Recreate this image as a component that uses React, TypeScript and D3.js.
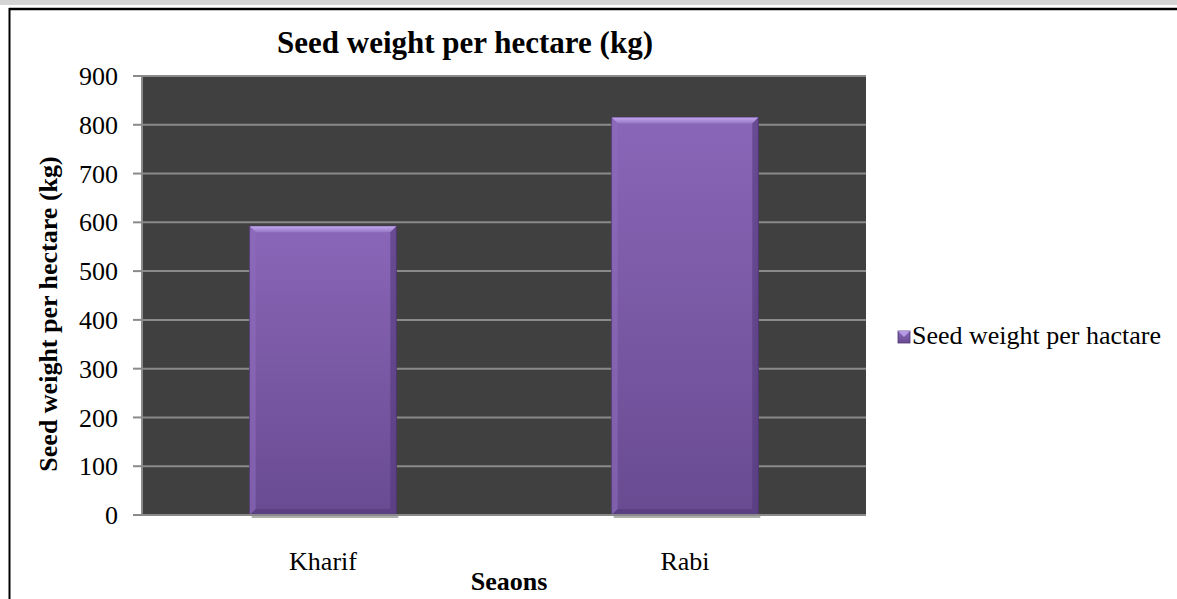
import React from "react";
import * as d3 from "d3";

const categories = ["Kharif", "Rabi"];
const values = [592, 815];
const yTicks = [0, 100, 200, 300, 400, 500, 600, 700, 800, 900];
const seriesName = "Seed weight per hactare";
const chartTitle = "Seed weight per hectare (kg)";
const yTitle = "Seed weight per hectare (kg)";
const xTitle = "Seaons";

const W = 1177;
const H = 599;
const plot = { left: 142, right: 866, top: 76, bottom: 515 };

export default function App() {
  const x = d3
    .scaleBand<string>()
    .domain(categories)
    .range([plot.left, plot.right])
    .paddingInner(0.595)
    .paddingOuter(0.2975);
  const y = d3.scaleLinear().domain([0, 900]).range([plot.bottom, plot.top]);
  const font = "'Times New Roman', 'Liberation Serif', serif";

  return (
    <svg
      width={W}
      height={H}
      style={{ position: "absolute", left: 0, top: 0, background: "#fff" }}
      fontFamily={font}
    >
      <defs>
        <linearGradient id="barGrad" x1="0" y1="0" x2="0" y2="1">
          <stop offset="0" stopColor="#8a66b8" />
          <stop offset="1" stopColor="#684b91" />
        </linearGradient>
        <linearGradient id="barTop" x1="0" y1="0" x2="0" y2="1">
          <stop offset="0" stopColor="#c4a8ee" />
          <stop offset="1" stopColor="#9577c6" />
        </linearGradient>
      </defs>
      <rect x={0} y={0} width={W} height={5} fill="#d4d4d4" />
      <line x1={9} x2={W} y1={9} y2={9} stroke="#000" strokeWidth={2.5} />
      <line x1={9.5} x2={9.5} y1={8} y2={H} stroke="#000" strokeWidth={2} />

      <text x={465} y={53} textAnchor="middle" fontSize={31} fontWeight="bold">
        {chartTitle}
      </text>

      <rect
        x={plot.left}
        y={plot.top}
        width={plot.right - plot.left}
        height={plot.bottom - plot.top}
        fill="#404040"
      />
      {yTicks.map((t) => (
        <g key={t}>
          {t > 0 && (
            <line
              x1={plot.left}
              x2={plot.right}
              y1={y(t)}
              y2={y(t)}
              stroke="#8a8a8a"
              strokeWidth={2}
            />
          )}
          <line x1={133} x2={plot.left} y1={y(t)} y2={y(t)} stroke="#8a8a8a" strokeWidth={2} />
          <text x={118} y={y(t)} dy="0.35em" textAnchor="end" fontSize={26}>
            {t}
          </text>
        </g>
      ))}
      <line x1={plot.left} x2={plot.left} y1={plot.top} y2={plot.bottom} stroke="#8a8a8a" strokeWidth={2} />

      {categories.map((c, i) => {
        const bx = x(c)!;
        const bw = x.bandwidth();
        const by = y(values[i]);
        const bh = plot.bottom - by;
        const bev = 6;
        return (
          <g key={c}>
            <rect x={bx + 2} y={plot.bottom - 1} width={bw} height={4} fill="#9a9a9a" opacity={0.8} />
            <rect x={bx} y={by} width={bw} height={bh} fill="url(#barGrad)" stroke="#4e3670" strokeWidth={1} />
            <polygon
              points={`${bx},${by} ${bx + bw},${by} ${bx + bw - bev},${by + bev} ${bx + bev},${by + bev}`}
              fill="url(#barTop)"
            />
            <polygon
              points={`${bx},${by} ${bx + bev},${by + bev} ${bx + bev},${plot.bottom - bev} ${bx},${plot.bottom}`}
              fill="#8d6cbd"
              opacity={0.6}
            />
            <polygon
              points={`${bx + bw},${by} ${bx + bw - bev},${by + bev} ${bx + bw - bev},${plot.bottom - bev} ${bx + bw},${plot.bottom}`}
              fill="#54397c"
              opacity={0.6}
            />
            <polygon
              points={`${bx},${plot.bottom} ${bx + bev},${plot.bottom - bev} ${bx + bw - bev},${plot.bottom - bev} ${bx + bw},${plot.bottom}`}
              fill="#563b7e"
              opacity={0.7}
            />
            <text x={bx + bw / 2} y={570} textAnchor="middle" fontSize={26}>
              {c}
            </text>
          </g>
        );
      })}
      <line x1={plot.left} x2={plot.right} y1={plot.bottom} y2={plot.bottom} stroke="#8a8a8a" strokeWidth={2} />

      <text x={509} y={590} textAnchor="middle" fontSize={26} fontWeight="bold">
        {xTitle}
      </text>
      <text
        transform={`translate(57, 314) rotate(-90)`}
        textAnchor="middle"
        fontSize={26}
        fontWeight="bold"
      >
        {yTitle}
      </text>

      <rect x={898} y={331} width={12} height={12} fill="url(#barGrad)" stroke="#4e3670" strokeWidth={0.8} />
      <polygon points="898,331 910,331 904,337" fill="#b79ae6" />
      <text x={912} y={344} fontSize={26}>
        {seriesName}
      </text>
    </svg>
  );
}
